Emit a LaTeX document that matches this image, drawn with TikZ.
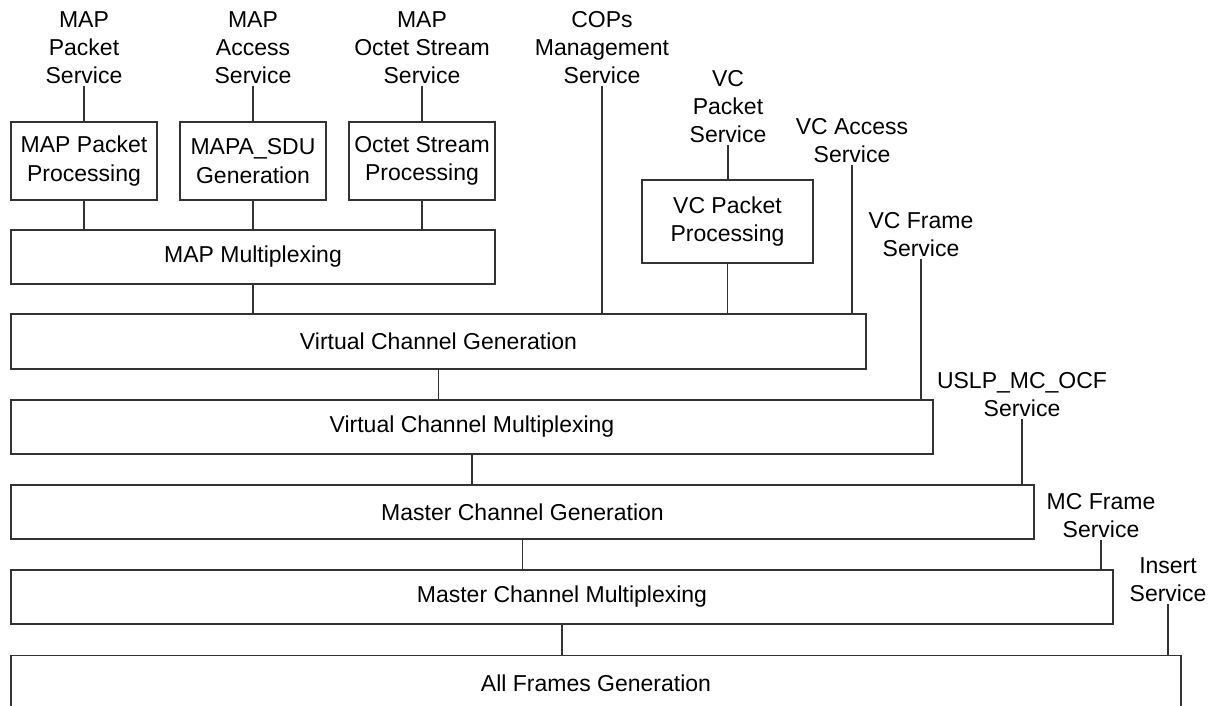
\documentclass[tikz,border=0pt]{standalone}
\usepackage{fontspec}
\setmainfont{Liberation Sans}
\begin{document}
\begin{tikzpicture}[x=1pt,y=-1pt,
  box/.style={draw=black!80, line width=1.2pt, align=center, inner sep=0pt, font=\fontsize{23}{28.5}\selectfont},
  plain/.style={align=center, inner sep=0pt, font=\fontsize{23}{28.5}\selectfont},
  lbl/.style={align=center, inner sep=0pt, anchor=south, text depth=0pt, font=\fontsize{23}{28}\selectfont},
  conn/.style={draw=black!80, line width=1.2pt}]
\useasboundingbox (0,0) rectangle (1213,706);

% MAP level boxes
\node[box, minimum width=146pt, minimum height=78pt] (mpp) at (84,161) {MAP Packet\\Processing};
\node[box, minimum width=146pt, minimum height=78pt] (msg) at (253,161) {MAPA\_SDU\\Generation};
\node[box, minimum width=146pt, minimum height=78pt] (osp) at (422,161) {Octet Stream\\Processing};
\node[box, minimum width=484pt, minimum height=54pt] (mapmux) at (253,257) {MAP Multiplexing};

% VC packet processing
\node[box, minimum width=171pt, minimum height=83pt] (vcpp) at (727.5,221.5) {VC Packet\\Processing};

% stacked wide boxes
\node[box, minimum width=855pt, minimum height=55pt] (vcg) at (438.5,341.5) {Virtual Channel Generation};
\node[box, minimum width=922pt, minimum height=54pt] (vcm) at (472,427) {Virtual Channel Multiplexing};
\node[box, minimum width=1023pt, minimum height=54pt] (mcg) at (522.5,512) {Master Channel Generation};
\node[box, minimum width=1102pt, minimum height=54pt] (mcm) at (562,597) {Master Channel Multiplexing};
\node[plain, minimum width=1170pt, minimum height=55pt] (afg) at (596,683) {All Frames Generation};
\coordinate (afgBL) at (11,706);
\coordinate (afgBR) at (1181,706);
\draw[conn] (afgBL) -- (afgBL |- afg.north) -- (afgBR |- afg.north) -- (afgBR);

% service labels
\node[lbl] (mps) at (84,84) {MAP\\Packet\\Service};
\node[lbl] (mas) at (253,84) {MAP\\Access\\Service};
\node[lbl] (mos) at (422,84) {MAP\\Octet Stream\\Service};
\node[lbl] (cops) at (602,84) {COPs\\Management\\Service};
\node[lbl] (vcps) at (728,143) {VC\\Packet\\Service};
\node[lbl] (vcas) at (852,163) {VC Access\\Service};
\node[lbl] (vcfs) at (921,257) {VC Frame\\Service};
\node[lbl] (ocfs) at (1022,417) {USLP\_MC\_OCF\\Service};
\node[lbl] (mcfs) at (1101,538) {MC Frame\\Service};
\node[lbl] (ins) at (1168,602) {Insert\\Service};

% connectors
\draw[conn] ([yshift=-2pt]mps.south) -- (mpp.north);
\draw[conn] ([yshift=-2pt]mas.south) -- (msg.north);
\draw[conn] ([yshift=-2pt]mos.south) -- (osp.north);
\draw[conn] (mpp.south) -- (mpp.south |- mapmux.north);
\draw[conn] (msg.south) -- (msg.south |- mapmux.north);
\draw[conn] (osp.south) -- (osp.south |- mapmux.north);
\draw[conn] (mapmux.south) -- (mapmux.south |- vcg.north);
\draw[conn] ([yshift=-2pt]cops.south) -- (cops.south |- vcg.north);
\draw[conn] ([yshift=-2pt]vcps.south) -- (vcps.south |- vcpp.north);
\draw[conn] (vcpp.south) -- (vcpp.south |- vcg.north);
\draw[conn] ([yshift=-2pt]vcas.south) -- (vcas.south |- vcg.north);
\draw[conn] (vcg.south) -- (vcg.south |- vcm.north);
\draw[conn] ([yshift=-2pt]vcfs.south) -- (vcfs.south |- vcm.north);
\draw[conn] (vcm.south) -- (vcm.south |- mcg.north);
\draw[conn] ([yshift=-2pt]ocfs.south) -- (ocfs.south |- mcg.north);
\draw[conn] (mcg.south) -- (mcg.south |- mcm.north);
\draw[conn] ([yshift=-2pt]mcfs.south) -- (mcfs.south |- mcm.north);
\draw[conn] (mcm.south) -- (mcm.south |- afg.north);
\draw[conn] ([yshift=-2pt]ins.south) -- (ins.south |- afg.north);
\end{tikzpicture}
\end{document}
